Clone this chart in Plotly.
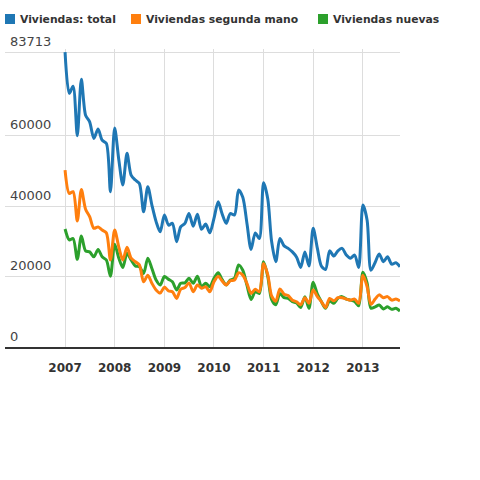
import plotly.graph_objects as go
import pandas as pd

# meses: enero 2007 .. octubre 2013
months = pd.date_range("2007-01-01", periods=82, freq="MS")

names = ["Viviendas: total", "Viviendas segunda mano", "Viviendas nuevas"]
colors = ["#1f77b4", "#ff7f0e", "#2ca02c"]

total = [83713, 72000, 74000, 60000, 76000, 65800, 63900, 59200, 61900, 58700, 57800, 44100,
         62200, 53000, 46000, 55000, 48800, 47400, 46400, 38400, 45500, 40300, 35600, 32700,
         37500, 34600, 35100, 29900, 34100, 35100, 37900, 34300, 37700, 33400, 34900, 32400,
         36500, 41200, 37900, 35100, 37900, 37500, 44600, 42500, 35000, 27700, 32400, 30800,
         46600, 42000, 30000, 24200, 30800, 28700, 28000, 27000, 25500, 22600, 27000, 23000,
         33700, 28000, 23000, 22000, 27300, 25800, 27300, 28000, 26100, 25200, 26100, 22600,
         40300, 36000, 21800, 24000, 26400, 24200, 25600, 23500, 23900, 22800]

segunda_mano = [50200, 43600, 44100, 35800, 44700, 39100, 37000, 33700, 34100, 33200, 32400, 24700,
                33200, 28300, 24700, 28300, 25200, 24200, 23300, 18500, 20400, 18100, 16200, 15300,
                17000, 15900, 15700, 13800, 16400, 16900, 18200, 15700, 17600, 16700, 17100, 15700,
                18500, 20100, 18800, 17600, 18800, 19000, 21100, 20400, 18000, 15200, 16400, 15700,
                23700, 20500, 14500, 13000, 16500, 15000, 14600, 13300, 12800, 12000, 14000, 12400,
                16200, 14300, 12900, 11200, 13800, 13100, 14000, 14000, 13600, 13300, 13600, 12400,
                20400, 17100, 12100, 13600, 14800, 14000, 14300, 13300, 13600, 13100]

nuevas = [33500, 30400, 30800, 24900, 31500, 27300, 27000, 25600, 27700, 25600, 24700, 20100,
          29200, 25200, 22600, 26600, 24700, 23000, 22800, 20900, 25200, 22300, 19000, 17600,
          20000, 19200, 18500, 16200, 18100, 18200, 19500, 18100, 20100, 17100, 18100, 17100,
          19500, 21100, 19200, 17600, 19000, 19500, 23300, 21800, 17500, 13500, 15700, 15200,
          24200, 20000, 13500, 12000, 15200, 14000, 13800, 12900, 12500, 11200, 14300, 11000,
          18400, 15000, 12900, 11000, 13100, 12400, 13800, 14300, 13600, 13300, 12900, 11700,
          21200, 18100, 11000, 11400, 11900, 10800, 11400, 10700, 11000, 10200]

series = [total, segunda_mano, nuevas]
year_ticks = ["2007", "2008", "2009", "2010", "2011", "2012", "2013"]
y_ticks = [0, 20000, 40000, 60000, max(total)]

fig = go.Figure()
# la verde se dibuja antes que la naranja (la naranja queda encima)
for i in [0, 2, 1]:
    fig.add_trace(go.Scatter(x=months, y=series[i], mode="lines", name=names[i],
                             line=dict(color=colors[i], width=3, shape="spline", smoothing=0.8),
                             showlegend=False, hoverinfo="skip"))

# leyenda a mano: cuadrado + texto
L, R, T, B = 5, 80, 49, 133
pw, ph = 480 - L - R, 480 - T - B
legend_x = [5, 131, 318]
for i, name in enumerate(names):
    x0 = (legend_x[i] - L) / pw
    fig.add_shape(type="rect", xref="paper", yref="paper",
                  x0=x0, x1=x0 + 10 / pw,
                  y0=(480 - B - 24) / ph, y1=(480 - B - 14) / ph,
                  fillcolor=colors[i], line=dict(width=0))
    fig.add_annotation(text="<b>" + name + "</b>", xref="paper", yref="paper",
                       x=x0 + 13 / pw, y=(480 - B - 19) / ph,
                       xanchor="left", yanchor="middle", showarrow=False,
                       font=dict(family="DejaVu Sans", size=10.8, color="#333"))

# etiquetas del eje y, encima de cada linea de rejilla
for v in y_ticks:
    fig.add_annotation(text=str(v), xref="paper", yref="y", x=3 / pw, y=v,
                       xanchor="left", yanchor="middle", yshift=11, showarrow=False,
                       font=dict(family="DejaVu Sans", size=13, color="#444"))

fig.update_layout(
    width=480, height=480,
    margin=dict(l=L, r=R, t=T, b=B),
    paper_bgcolor="white", plot_bgcolor="white",
    xaxis=dict(range=["2005-10-16", "2013-10-01"],
               tickvals=[y + "-01-01" for y in year_ticks], ticktext=year_ticks,
               showgrid=True, gridcolor="#ddd", gridwidth=1,
               showline=True, linecolor="#333", linewidth=1.5,
               ticks="outside", ticklen=9, tickcolor="rgba(0,0,0,0)",
               tickfont=dict(family="DejaVu Sans", size=12, color="#333", weight="bold"),
               zeroline=False),
    yaxis=dict(range=[0, 84600], tickvals=y_ticks, showticklabels=False,
               showgrid=True, gridcolor="#ddd", gridwidth=1,
               zeroline=False, showline=False),
)

fig.write_html("out.html", config={"displayModeBar": False},
               post_script="document.body.style.margin='0px';")
